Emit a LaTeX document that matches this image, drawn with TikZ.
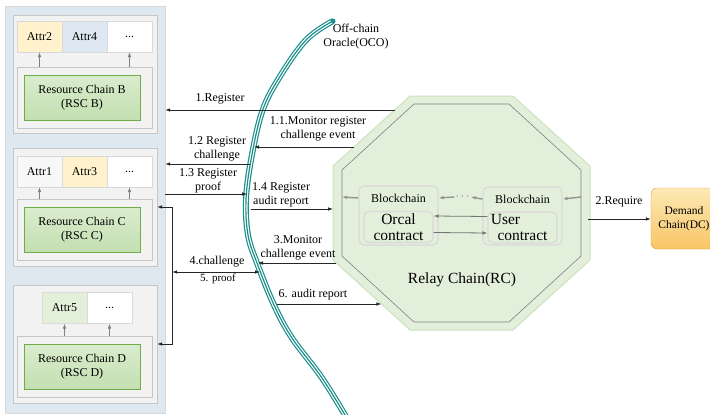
\documentclass[tikz,border=0pt]{standalone}
\usepackage{fontspec}
\setmainfont{Liberation Serif}
\newfontfamily\figfont{Liberation Serif}
\usepackage{tikz}
\usetikzlibrary{arrows.meta}
\definecolor{panelblue}{HTML}{DEE8F1}
\definecolor{panelgray}{HTML}{F2F2F2}
\definecolor{attryellow}{HTML}{FFF2CC}
\definecolor{attrblue}{HTML}{DDE8F2}
\definecolor{attrgreen}{HTML}{E2EFD9}
\definecolor{chainedge}{HTML}{70AD47}
\definecolor{chaintop}{HTML}{DAECCE}
\definecolor{chainbot}{HTML}{C3DFB0}
\definecolor{relaygreen}{HTML}{E2EFDA}
\definecolor{relayedge}{HTML}{CCE2BE}
\definecolor{oracleteal}{HTML}{1B8F8C}
\definecolor{demandedge}{HTML}{E69B3A}
\definecolor{demandtop}{HTML}{FDE9B6}
\definecolor{demandbot}{HTML}{F8C565}

\begin{document}
\begin{tikzpicture}[x=1pt, y=-1pt, >={Latex[length=5pt,width=3.6pt]},
    font=\figfont\fontsize{12}{14}\selectfont,
    panel/.style={draw=gray!45, fill=panelgray, minimum width=144pt, minimum height=118pt},
    inbox/.style={draw=gray!45, fill=panelgray, minimum width=135pt, minimum height=61pt},
    chain/.style={draw=chainedge, top color=chaintop, bottom color=chainbot,
                  minimum width=116pt, minimum height=45pt, align=center},
    attr/.style={draw=gray!30, minimum width=45pt, minimum height=31pt, inner sep=0pt},
    attrup/.style={->, gray, line width=0.6pt},
    msg/.style={->, black!85, line width=0.8pt},
    lbl/.style={align=center, inner sep=0pt},
    bc/.style={draw=gray!30, line width=1.2pt, rounded corners=5pt, fill=relaygreen},
    contract/.style={bc, minimum width=69pt, minimum height=31pt, inner sep=0pt,
                     align=center, font=\figfont\fontsize{15.5}{16}\selectfont},
    flow/.style={->, gray!85, line width=1.4pt},
    demand/.style={draw=demandedge, top color=demandtop, bottom color=demandbot,
                   rounded corners=6pt, minimum width=66pt, minimum height=61pt, align=center,
                   font=\figfont\fontsize{11.5}{14}\selectfont}
]
\clip (0,0) rectangle (710,415);

% resource chains
\node[panel, fill=panelblue, draw=gray!30, minimum width=160pt, minimum height=407pt] (lp) at (85,209.5) {};

\node[panel] (pB) at (85,74) {};
\node[attr, fill=attryellow] (aB2) at (39.5,36.5) {Attr2};
\node[attr, fill=attrblue] (aB4) at (84.5,36.5) {Attr4};
\node[attr, fill=white] (aBd) at (129.5,36.5) {...};
\node[inbox] (inB) at (84.5,97.5) {};
\node[chain] (rscB) at (82,97.5) {Resource Chain B\\(RSC B)};
\draw[attrup] (inB.north -| aB2) -- (aB2.south);
\draw[attrup] (inB.north -| aBd) -- (aBd.south);

\node[panel] (pC) at (85,207) {};
\node[attr, fill=gray!6] (aC1) at (39.5,171.5) {Attr1};
\node[attr, fill=attryellow] (aC3) at (84.5,171.5) {Attr3};
\node[attr, fill=white] (aCd) at (129.5,171.5) {...};
\node[inbox] (inC) at (84.5,230) {};
\node[chain] (rscC) at (82,230) {Resource Chain C\\(RSC C)};
\draw[attrup] (inC.north -| aC1) -- (aC1.south);
\draw[attrup] (inC.north -| aCd) -- (aCd.south);

\node[panel] (pD) at (85,344) {};
\node[attr, fill=attrgreen] (aD5) at (64.5,308) {Attr5};
\node[attr, fill=white] (aDd) at (109.5,308) {...};
\node[inbox] (inD) at (84.5,367) {};
\node[chain] (rscD) at (82,367) {Resource Chain D\\(RSC D)};
\draw[attrup] (inD.north -| aD5) -- (aD5.south);
\draw[attrup] (inD.north -| aDd) -- (aDd.south);

% relay chain
\draw[draw=relayedge, fill=relaygreen, line width=1pt]
    (410,96) -- (513,96) -- (590,166) -- (590,260) -- (513,330) -- (410,330) -- (333,260) -- (333,166) -- cycle;
\draw[gray, line width=0.6pt]
    (414,104) -- (509,104) -- (581,170) -- (581,256) -- (509,322) -- (414,322) -- (342,256) -- (342,170) -- cycle;
\node[font=\figfont\fontsize{15.5}{18}\selectfont] (rc) at (462,280) {Relay Chain(RC)};

\node[bc, minimum width=79pt, minimum height=59pt] (bcL) at (398.5,215.5) {};
\node (lblL) at (398.5,198) {Blockchain};
\node[contract] (orcal) at (398.5,227) {Orcal\\contract};
\node[bc, minimum width=79pt, minimum height=58pt] (bcR) at (522.5,216) {};
\node (lblR) at (522.5,199) {Blockchain};
\node[contract] (user) at (522.5,227.5) {User\hspace*{34pt}\\contract};
\node[gray, inner sep=1pt] (dots) at (462.5,197) {$\cdots$};

\coordinate (il) at (342,197);
\coordinate (ir) at (581,197);
\draw[flow] (bcR.west |- lblR) -- (dots.east);
\draw[flow] (dots.west) -- (bcL.east |- lblL);
\draw[flow] (bcL.west |- lblL) -- (il);
\draw[flow] (ir) -- (bcR.east |- lblR);
\draw[->, gray!90!black, line width=0.8pt] ([yshift=-5.5pt]orcal.east) -- ([yshift=-5.5pt]user.west);
\draw[->, gray!90!black, line width=0.8pt] ([yshift=11pt]user.west) -- ([yshift=11pt]orcal.east);

% demand chain
\node[demand] (dc) at (684,218.5) {Demand\\Chain(DC)};

% off-chain oracle
\foreach \w/\c in {6pt/oracleteal, 3.6pt/white, 1.2pt/oracleteal}
  \draw[line width=\w, draw=\c] plot[smooth, tension=0.6] coordinates {
    (333,21) (306,40) (279,78) (262,112) (251,160) (246,200) (248,235)
    (257,263) (274,305) (292,338) (322,378) (348,420)};
\fill[oracleteal] (333,21) circle (2.5pt);
\node[lbl] (oco) at (356,36.5) {Off-chain\\Oracle(OCO)};

% points on the relay chain and on the oracle
\coordinate (r1) at (394.6,110);
\coordinate (r11) at (353.9,147);
\coordinate (r14) at (333,209);
\coordinate (r3) at (336.3,263);
\coordinate (r6) at (381.4,304);
\coordinate (r2) at (588,219);
\coordinate (c11) at (254,147);
\coordinate (c12) at (250,164);
\coordinate (c13) at (247,194);
\coordinate (c14) at (251,209);
\coordinate (c3) at (258,263);
\coordinate (c45) at (260,272);
\coordinate (c6) at (277,304);

% messages
\draw[msg] (r1) -- (r1 -| lp.east);
\node[lbl] (l1) at (220,99) {1.Register};
\draw[msg] (r11) -- (c11);
\node[lbl] (l11) at (318,129) {1.1.Monitor register\\challenge event};
\draw[msg] (c12) -- (c12 -| lp.east);
\node[lbl] (l12) at (217,148.5) {1.2 Register\\challenge};
\draw[msg] (c13 -| lp.east) -- (c13);
\node[lbl] (l13) at (208,180.5) {1.3 Register\\proof};
\draw[msg] (c14) -- (r14);
\node[lbl] (l14) at (281,195) {1.4 Register\\audit report};
\draw[msg] (r3) -- (c3);
\node[lbl] (l3) at (298,247.5) {3.Monitor\\challenge event};
\draw[msg, <->] (pC.east) -- ++(15,0) coordinate (brk) |- (pD.east);
\draw[msg, <->] (c45 -| brk) -- (c45);
\node[lbl] (l4) at (217,262) {4.challenge};
\node[lbl, font=\figfont\fontsize{11}{13}\selectfont] (l5) at (218,279) {5. proof};
\draw[msg] (c6) -- (r6);
\node[lbl] (l6) at (313,295) {6. audit report};
\draw[msg] (r2) -- (r2 -| dc.west);
\node[lbl] (l2) at (619,202) {2.Require};
\end{tikzpicture}
\end{document}
